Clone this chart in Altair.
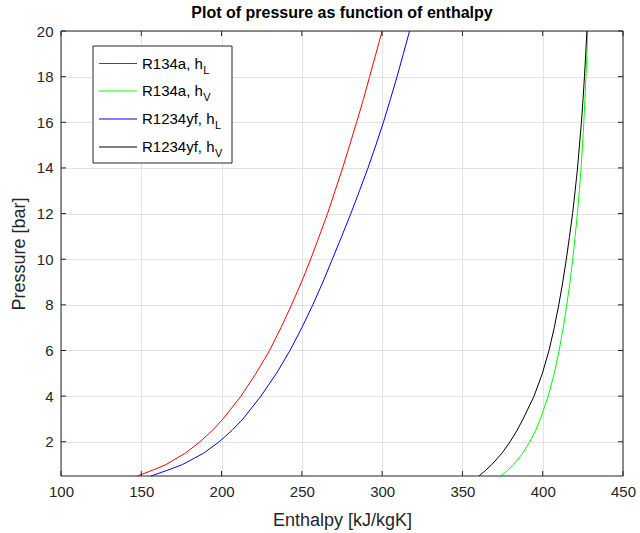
import altair as alt
import pandas as pd

# ---------------- data ----------------
pressure = [0.5, 0.75, 1, 1.5, 2, 2.5, 3, 4, 5, 6, 7, 8, 9, 10, 11, 12, 13, 14, 15, 16, 17, 18, 19, 20]
r134a_hL = [147.5, 156.9, 165.4, 177.4, 186.6, 194.3, 200.9, 212.1, 221.5, 229.9, 237.0, 243.6,
            249.8, 255.5, 260.8, 266.0, 270.7, 275.4, 279.8, 284.1, 288.3, 292.2, 296.1, 300.0]
r134a_hV = [374.0, 378.2, 381.9, 387.6, 392.0, 395.6, 398.6, 403.4, 407.2, 410.2, 412.8, 415.0,
            417.0, 418.7, 420.2, 421.6, 422.8, 423.9, 424.8, 425.6, 426.3, 426.9, 427.5, 428.0]
r1234yf_hL = [156.0, 166.2, 175.6, 188.8, 198.5, 206.5, 213.3, 224.5, 234.2, 242.6, 250.0, 256.8,
              263.1, 269.0, 274.8, 280.5, 285.9, 291.2, 296.1, 300.8, 305.1, 309.3, 313.2, 317.1]
r1234yf_hV = [360.3, 364.5, 368.3, 374.6, 379.7, 384.0, 387.8, 394.6, 399.8, 403.9, 407.2, 410.0,
              412.5, 414.7, 416.7, 418.6, 420.2, 421.7, 422.9, 424.1, 425.1, 426.0, 426.8, 427.5]

series_keys = ["R134a_hL", "R134a_hV", "R1234yf_hL", "R1234yf_hV"]
legend_main = ["R134a, h", "R134a, h", "R1234yf, h", "R1234yf, h"]
legend_sub = ["L", "V", "L", "V"]
series_colors = ["#ff0000", "#00ff00", "#0000ff", "#000000"]

x_ticks = [100, 150, 200, 250, 300, 350, 400, 450]
y_ticks = [2, 4, 6, 8, 10, 12, 14, 16, 18, 20]

rows = []
for key, vals in zip(series_keys, [r134a_hL, r134a_hV, r1234yf_hL, r1234yf_hV]):
    for p, h in zip(pressure, vals):
        rows.append({"series": key, "h": h, "p": p})
df = pd.DataFrame(rows)

# ---------------- layout ----------------
W, H = 562, 445
FONT = "Liberation Sans"
AX = "#262626"

xscale = alt.Scale(domain=[100, 450], nice=False, zero=False)
yscale = alt.Scale(domain=[0.5, 20], nice=False, zero=False)
cscale = alt.Scale(domain=series_keys, range=series_colors)
xaxis = alt.Axis(values=x_ticks, title="Enthalpy [kJ/kgK]", grid=True, labelFlush=False,
                 ticks=False, tickSize=0, domain=False, labelPadding=8, titlePadding=12)
yaxis = alt.Axis(values=y_ticks, title="Pressure [bar]", grid=True, labelFlush=False,
                 ticks=False, tickSize=0, domain=False, labelPadding=8, titlePadding=8)

lines = alt.Chart(df).mark_line(strokeWidth=1).encode(
    x=alt.X("h:Q", scale=xscale, axis=xaxis),
    y=alt.Y("p:Q", scale=yscale, axis=yaxis),
    color=alt.Color("series:N", scale=cscale, legend=None),
    order=alt.Order("p:Q"),
    detail="series:N",
)

xt = pd.DataFrame({"v": x_ticks})
yt = pd.DataFrame({"v": y_ticks})
tick_bottom = alt.Chart(xt).mark_rule(strokeWidth=1).encode(
    x=alt.X("v:Q", scale=xscale, axis=xaxis), y=alt.value(H), y2=alt.value(H - 5),
    color=alt.value(AX))
tick_top = alt.Chart(xt).mark_rule(strokeWidth=1).encode(
    x=alt.X("v:Q", scale=xscale, axis=xaxis), y=alt.value(0), y2=alt.value(5),
    color=alt.value(AX))
tick_left = alt.Chart(yt).mark_rule(strokeWidth=1).encode(
    y=alt.Y("v:Q", scale=yscale, axis=yaxis), x=alt.value(0), x2=alt.value(5),
    color=alt.value(AX))
tick_right = alt.Chart(yt).mark_rule(strokeWidth=1).encode(
    y=alt.Y("v:Q", scale=yscale, axis=yaxis), x=alt.value(W), x2=alt.value(W - 5),
    color=alt.value(AX))

frame = alt.Chart(pd.DataFrame({"a": [0]})).mark_rect(
    fill=None, strokeWidth=1).encode(
    x=alt.value(0), x2=alt.value(W), y=alt.value(0), y2=alt.value(H), stroke=alt.value(AX))

# ---------------- hand-made legend (for subscripts) ----------------
ARIAL = {"R": 0.722, "1": 0.556, "2": 0.556, "3": 0.556, "4": 0.556, "a": 0.556,
         ",": 0.278, " ": 0.278, "h": 0.556, "y": 0.5, "f": 0.278}
LEG_FS, SUB_FS = 15, 11
leg_box = alt.Chart(pd.DataFrame({"a": [1]})).mark_rect(strokeWidth=1).encode(
    x=alt.value(32), x2=alt.value(171), y=alt.value(15), y2=alt.value(132),
    fill=alt.value("white"), stroke=alt.value(AX))
legend_layers = [leg_box]
row_y = [32.5, 60.0, 88.0, 116.0]
for i in range(4):
    yy = row_y[i]
    legend_layers.append(
        alt.Chart(pd.DataFrame({"series": [series_keys[i]], "row": [i]})).mark_rule(strokeWidth=1).encode(
            x=alt.value(38), x2=alt.value(76), y=alt.value(yy),
            color=alt.Color("series:N", scale=cscale, legend=None)))
    legend_layers.append(
        alt.Chart(pd.DataFrame({"t": [legend_main[i]], "row": [i]})).mark_text(
            align="left", baseline="alphabetic", font=FONT, fontSize=LEG_FS).encode(
            text="t:N", x=alt.value(81), y=alt.value(yy + 5), color=alt.value("#000000")))
    wmain = sum(ARIAL[c] for c in legend_main[i]) * LEG_FS
    legend_layers.append(
        alt.Chart(pd.DataFrame({"t": [legend_sub[i]], "row": [i]})).mark_text(
            align="left", baseline="alphabetic", font=FONT, fontSize=SUB_FS).encode(
            text="t:N", x=alt.value(81 + wmain + 0.5), y=alt.value(yy + 10),
            color=alt.value("#000000")))

chart = alt.layer(
    lines, tick_bottom, tick_top, tick_left, tick_right, frame, *legend_layers
).properties(
    width=W, height=H,
    title=alt.TitleParams("Plot of pressure as function of enthalpy", font=FONT, fontSize=16,
                          fontWeight="bold", color="#000000", anchor="middle", offset=3,
                          frame="group"),
    autosize=alt.AutoSizeParams(type="none"),
    padding={"left": 61, "top": 31, "right": 640 - 61 - W, "bottom": 533 - 31 - H},
    background="white",
).configure_view(
    stroke=None
).configure_axis(
    labelFont=FONT, labelFontSize=15, labelColor=AX,
    titleFont=FONT, titleFontSize=18, titleFontWeight="normal", titleColor=AX,
    gridColor="#e3e3e3", gridWidth=1, gridOpacity=1,
)

chart.save("out.html", embed_options={"renderer": "svg", "actions": False})
